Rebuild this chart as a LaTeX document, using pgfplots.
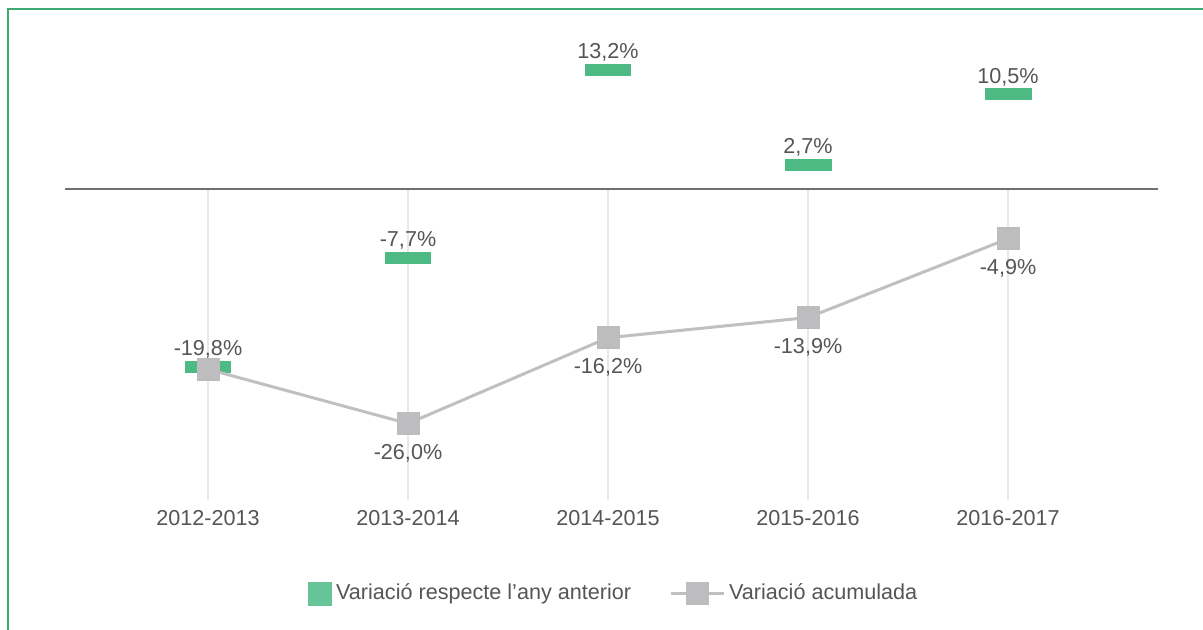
\documentclass[border=0pt]{standalone}
\usepackage{pgfplots}
\pgfplotsset{compat=1.18}
\usepackage{fontspec}
\setmainfont{Liberation Sans}
\definecolor{barGreen}{HTML}{4DB983}
\definecolor{legGreen}{HTML}{66C597}
\definecolor{grayLine}{HTML}{C0C0C0}
\definecolor{grayMark}{HTML}{BDBDBF}
\definecolor{gridGray}{HTML}{E8E8E8}
\definecolor{zeroGray}{HTML}{707070}
\definecolor{txt}{HTML}{555555}
\definecolor{frameGreen}{HTML}{3DAA73}
\newcommand{\lblfont}{\fontsize{10.8}{12.9}\selectfont}
\begin{document}
\begin{tikzpicture}
\begin{axis}[
  anchor=origin, at={(0pt,0pt)},
  x=100pt, y=4.5pt,
  xmin=-0.715, xmax=4.75, ymin=-34.6, ymax=18,
  clip=false,
  axis line style={draw=none},
  major tick length=0pt,
  ytick=\empty,
  xtick={0,1,2,3,4},
  xticklabels={2012-2013,2013-2014,2014-2015,2015-2016,2016-2017},
  xticklabel style={anchor=center, yshift=-9pt, font=\lblfont, text=txt},
  legend style={at={(0.503,-0.1966)}, anchor=center, draw=none, fill=none,
    font=\lblfont, text=txt, legend columns=2,
    /tikz/every even column/.append style={column sep=17pt}},
  legend cell align=left,
]
% vertical gridlines below zero
\addplot[ycomb, draw=gridGray, line width=1pt, mark=none, forget plot]
  coordinates {(0,-34.6) (1,-34.6) (2,-34.6) (3,-34.6) (4,-34.6)};
% zero line
\addplot[draw=zeroGray, line width=1pt, mark=none, forget plot]
  coordinates {(-0.715,0) (4.75,0)};
% annual variation
\addplot[only marks, draw=barGreen, fill=barGreen, mark=square*, mark size=2.75pt,
  mark options={xscale=4.18, fill=barGreen, draw=barGreen, line width=0pt},
  nodes near coords, point meta=explicit symbolic,
  every node near coord/.append style={anchor=center, yshift=8.8pt, font=\lblfont, text=txt},
  forget plot]
  table[meta=label] {
x y label
0 -19.8 -19,8\%
1 -7.7 -7,7\%
2 13.2 13,2\%
3 2.7 2,7\%
4 10.5 10,5\%
};
\addlegendimage{legend image code/.code={\fill[legGreen] (0pt,-5.75pt) rectangle (11.5pt,5.75pt);}}
\addlegendentry{Variació respecte l'any anterior}
\addlegendimage{legend image code/.code={\draw[grayLine, line width=1.5pt] (0pt,0pt) -- (26.5pt,0pt); \fill[grayMark] (7.75pt,-5.5pt) rectangle (18.75pt,5.5pt);}}
\addlegendentry{Variació acumulada}
\end{axis}
\begin{axis}[
  anchor=origin, at={(0pt,-3.4pt)},
  x=100pt, y=4.38pt,
  xmin=-0.715, xmax=4.75, ymin=-36, ymax=18,
  clip=false, hide axis,
]
\addplot[draw=grayLine, line width=1.5pt, mark=square*, mark size=5.5pt,
  mark options={fill=grayMark, draw=grayMark, line width=0pt},
  nodes near coords, point meta=explicit symbolic,
  every node near coord/.append style={anchor=center, yshift=-14.8pt, font=\lblfont, text=txt}]
  table[meta=label] {
x y label
0 -19.8 {}
1 -26.0 -26,0\%
2 -16.2 -16,2\%
3 -13.9 -13,9\%
4 -4.9 -4,9\%
};
\end{axis}
\draw[frameGreen, line width=1pt] (-100pt,-240pt) -- (-100pt,90pt) -- (520pt,90pt);
\pgfresetboundingbox
\useasboundingbox (-104pt,-220.5pt) rectangle (497.5pt,94.5pt);
\end{tikzpicture}
\end{document}
